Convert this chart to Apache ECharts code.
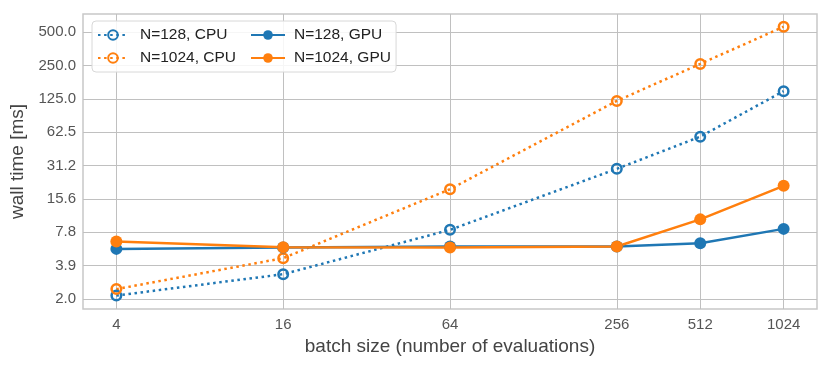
<!DOCTYPE html>
<html>
<head>
<meta charset="utf-8">
<script src="https://cdn.jsdelivr.net/npm/echarts@6/dist/echarts.min.js"></script>
<style>
  html, body { margin: 0; padding: 0; background: #fff; }
  #main { width: 830px; height: 369px; }
</style>
</head>
<body>
<div id="main"></div>
<script>
// batch sizes (x)
const batchSizes = [4, 16, 64, 256, 512, 1024];
// wall time in ms
const cpu128  = [2.09, 3.26, 8.2, 29.2, 57, 147];
const cpu1024 = [2.39, 4.55, 19.1, 120, 259, 562];
const gpu128  = [5.52, 5.68, 5.8, 5.8, 6.2, 8.37];
const gpu1024 = [6.43, 5.72, 5.68, 5.8, 10.2, 20.5];

// tick positions and their printed labels
const xTicks = [4, 16, 64, 256, 512, 1024];
const yTickValues = [1.953125, 3.90625, 7.8125, 15.625, 31.25, 62.5, 125, 250, 500];
const yTickLabels = ['2.0', '3.9', '7.8', '15.6', '31.2', '62.5', '125.0', '250.0', '500.0'];

const BLUE = '#1f77b4';
const ORANGE = '#ff7f0e';
const FONT = 'Liberation Sans';

function pairs(vals) {
  return batchSizes.map((b, i) => [b, vals[i]]);
}

// pick the printed label of the nearest tick
function yLabel(v) {
  let best = 0, bestD = Infinity;
  yTickValues.forEach((t, i) => {
    const d = Math.abs(Math.log(v / t));
    if (d < bestD) { bestD = d; best = i; }
  });
  return yTickLabels[best];
}

function cpuSeries(name, color, vals) {
  return {
    name: name,
    type: 'line',
    data: pairs(vals),
    symbol: 'circle',
    symbolSize: 9.5,
    lineStyle: { color: color, width: 2.5, type: [2.5, 3.6] },
    itemStyle: { color: 'rgba(255,255,255,0)', borderColor: color, borderWidth: 2.5 },
    emphasis: { disabled: true },
    z: 2
  };
}

function gpuSeries(name, color, vals) {
  return {
    name: name,
    type: 'line',
    data: pairs(vals),
    symbol: 'circle',
    symbolSize: 12,
    lineStyle: { color: color, width: 2.5 },
    itemStyle: { color: color, borderWidth: 0 },
    emphasis: { disabled: true },
    z: 3
  };
}

let option = {
  animation: false,
  backgroundColor: '#fff',
  textStyle: { fontFamily: FONT },
  grid: {
    left: 83, right: 13, top: 14, bottom: 60,
    show: true,
    borderColor: '#c8c8c8',
    borderWidth: 1.5
  },
  legend: [
    {
      data: ['N=128, CPU', 'N=1024, CPU'],
      orient: 'vertical',
      left: 92, top: 21,
      itemWidth: 30, itemHeight: 12, itemGap: 7,
      padding: [6, 160, 6, 5],
      backgroundColor: 'rgba(255,255,255,0.85)',
      borderColor: '#d8d8d8', borderWidth: 1, borderRadius: 4,
      textStyle: { fontFamily: FONT, fontSize: 15.5, color: '#222', padding: [0, 0, 0, 7] }
    },
    {
      data: ['N=128, GPU', 'N=1024, GPU'],
      orient: 'vertical',
      left: 245, top: 21,
      itemWidth: 34, itemHeight: 12, itemGap: 7,
      padding: [6, 6, 6, 5],
      textStyle: { fontFamily: FONT, fontSize: 15.5, color: '#222', padding: [0, 0, 0, 4] }
    }
  ],
  xAxis: {
    type: 'log',
    logBase: 2,
    min: Math.pow(2, 1.6),
    max: Math.pow(2, 10.4),
    name: 'batch size (number of evaluations)',
    nameLocation: 'middle',
    nameGap: 24,
    nameTextStyle: { fontFamily: FONT, fontSize: 19, color: '#444' },
    axisLine: { show: false },
    axisTick: { show: false, customValues: xTicks },
    axisLabel: {
      customValues: xTicks, margin: 8, fontSize: 15, color: '#555', fontFamily: FONT,
      formatter: v => String(Math.round(v))
    },
    splitLine: { show: true, lineStyle: { color: '#c0c0c0', width: 1 } }
  },
  yAxis: {
    type: 'log',
    logBase: 2,
    min: 1.58,
    max: 732,
    name: 'wall time [ms]',
    nameLocation: 'middle',
    nameGap: 51,
    nameTextStyle: { fontFamily: FONT, fontSize: 19, color: '#444' },
    axisLine: { show: false },
    axisTick: { show: false, customValues: yTickValues },
    axisLabel: { customValues: yTickValues, margin: 7, fontSize: 15, color: '#555', fontFamily: FONT, formatter: yLabel },
    splitLine: { show: true, lineStyle: { color: '#c0c0c0', width: 1 } }
  },
  series: [
    cpuSeries('N=128, CPU', BLUE, cpu128),
    cpuSeries('N=1024, CPU', ORANGE, cpu1024),
    gpuSeries('N=128, GPU', BLUE, gpu128),
    gpuSeries('N=1024, GPU', ORANGE, gpu1024)
  ]
};

let myChart = echarts.init(document.getElementById('main'));
myChart.setOption(option);
</script>
</body>
</html>
